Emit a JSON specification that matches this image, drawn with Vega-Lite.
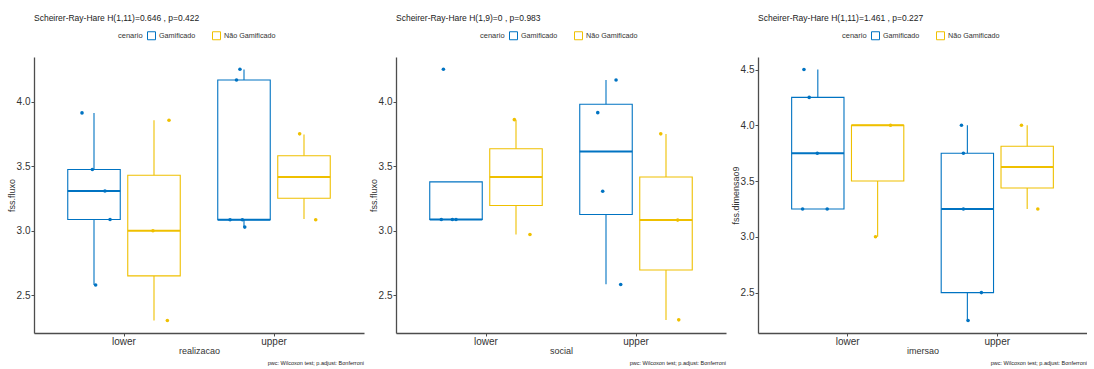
{
  "$schema": "https://vega.github.io/schema/vega-lite/v6.json",
  "padding": {"left": 7, "top": 13, "right": 0, "bottom": 0},
  "spacing": 5,
  "datasets": {
    "boxes": [
      {"panel": "realizacao", "cat": "lower", "cenario": "Gamificado", "lo": 2.58, "q1": 3.087, "med": 3.308, "q3": 3.474, "hi": 3.912},
      {"panel": "realizacao", "cat": "lower", "cenario": "Não Gamificado", "lo": 2.305, "q1": 2.65, "med": 3.0, "q3": 3.43, "hi": 3.855},
      {"panel": "realizacao", "cat": "upper", "cenario": "Gamificado", "lo": 3.028, "q1": 3.085, "med": 3.085, "q3": 4.167, "hi": 4.249},
      {"panel": "realizacao", "cat": "upper", "cenario": "Não Gamificado", "lo": 3.09, "q1": 3.251, "med": 3.416, "q3": 3.58, "hi": 3.745},
      {"panel": "social", "cat": "lower", "cenario": "Gamificado", "lo": 3.087, "q1": 3.087, "med": 3.087, "q3": 3.378, "hi": 3.378},
      {"panel": "social", "cat": "lower", "cenario": "Não Gamificado", "lo": 2.971, "q1": 3.195, "med": 3.416, "q3": 3.635, "hi": 3.86},
      {"panel": "social", "cat": "upper", "cenario": "Gamificado", "lo": 2.586, "q1": 3.126, "med": 3.614, "q3": 3.979, "hi": 4.167},
      {"panel": "social", "cat": "upper", "cenario": "Não Gamificado", "lo": 2.308, "q1": 2.696, "med": 3.082, "q3": 3.416, "hi": 3.748},
      {"panel": "imersao", "cat": "lower", "cenario": "Gamificado", "lo": 3.25, "q1": 3.25, "med": 3.75, "q3": 4.25, "hi": 4.5},
      {"panel": "imersao", "cat": "lower", "cenario": "Não Gamificado", "lo": 3.0, "q1": 3.5, "med": 4.0, "q3": 4.0, "hi": 4.0},
      {"panel": "imersao", "cat": "upper", "cenario": "Gamificado", "lo": 2.25, "q1": 2.5, "med": 3.25, "q3": 3.75, "hi": 4.0},
      {"panel": "imersao", "cat": "upper", "cenario": "Não Gamificado", "lo": 3.25, "q1": 3.4375, "med": 3.625, "q3": 3.8125, "hi": 4.0}
    ],
    "pts": [
      {"panel": "realizacao", "cat": "lower", "cenario": "Gamificado", "value": 3.912, "jitter": -0.08},
      {"panel": "realizacao", "cat": "lower", "cenario": "Gamificado", "value": 3.474, "jitter": -0.011},
      {"panel": "realizacao", "cat": "lower", "cenario": "Gamificado", "value": 3.308, "jitter": 0.073},
      {"panel": "realizacao", "cat": "lower", "cenario": "Gamificado", "value": 3.087, "jitter": 0.107},
      {"panel": "realizacao", "cat": "lower", "cenario": "Gamificado", "value": 2.58, "jitter": 0.011},
      {"panel": "realizacao", "cat": "lower", "cenario": "Não Gamificado", "value": 3.855, "jitter": 0.1},
      {"panel": "realizacao", "cat": "lower", "cenario": "Não Gamificado", "value": 3.0, "jitter": -0.007},
      {"panel": "realizacao", "cat": "lower", "cenario": "Não Gamificado", "value": 2.305, "jitter": 0.089},
      {"panel": "realizacao", "cat": "upper", "cenario": "Gamificado", "value": 4.25, "jitter": -0.027},
      {"panel": "realizacao", "cat": "upper", "cenario": "Gamificado", "value": 4.167, "jitter": -0.05},
      {"panel": "realizacao", "cat": "upper", "cenario": "Gamificado", "value": 3.085, "jitter": -0.093},
      {"panel": "realizacao", "cat": "upper", "cenario": "Gamificado", "value": 3.085, "jitter": -0.011},
      {"panel": "realizacao", "cat": "upper", "cenario": "Gamificado", "value": 3.028, "jitter": 0.005},
      {"panel": "realizacao", "cat": "upper", "cenario": "Não Gamificado", "value": 3.75, "jitter": -0.029},
      {"panel": "realizacao", "cat": "upper", "cenario": "Não Gamificado", "value": 3.085, "jitter": 0.078},
      {"panel": "social", "cat": "lower", "cenario": "Gamificado", "value": 4.25, "jitter": -0.084},
      {"panel": "social", "cat": "lower", "cenario": "Gamificado", "value": 3.087, "jitter": -0.098},
      {"panel": "social", "cat": "lower", "cenario": "Gamificado", "value": 3.087, "jitter": -0.024},
      {"panel": "social", "cat": "lower", "cenario": "Gamificado", "value": 3.087, "jitter": 0.0},
      {"panel": "social", "cat": "lower", "cenario": "Não Gamificado", "value": 3.86, "jitter": -0.011},
      {"panel": "social", "cat": "lower", "cenario": "Não Gamificado", "value": 2.971, "jitter": 0.093},
      {"panel": "social", "cat": "upper", "cenario": "Gamificado", "value": 4.167, "jitter": 0.067},
      {"panel": "social", "cat": "upper", "cenario": "Gamificado", "value": 3.914, "jitter": -0.055},
      {"panel": "social", "cat": "upper", "cenario": "Gamificado", "value": 3.305, "jitter": -0.022},
      {"panel": "social", "cat": "upper", "cenario": "Gamificado", "value": 2.584, "jitter": 0.098},
      {"panel": "social", "cat": "upper", "cenario": "Não Gamificado", "value": 3.75, "jitter": -0.035},
      {"panel": "social", "cat": "upper", "cenario": "Não Gamificado", "value": 3.082, "jitter": 0.078},
      {"panel": "social", "cat": "upper", "cenario": "Não Gamificado", "value": 2.31, "jitter": 0.085},
      {"panel": "imersao", "cat": "lower", "cenario": "Gamificado", "value": 4.5, "jitter": -0.093},
      {"panel": "imersao", "cat": "lower", "cenario": "Gamificado", "value": 4.25, "jitter": -0.058},
      {"panel": "imersao", "cat": "lower", "cenario": "Gamificado", "value": 3.75, "jitter": -0.004},
      {"panel": "imersao", "cat": "lower", "cenario": "Gamificado", "value": 3.25, "jitter": -0.102},
      {"panel": "imersao", "cat": "lower", "cenario": "Gamificado", "value": 3.25, "jitter": 0.062},
      {"panel": "imersao", "cat": "lower", "cenario": "Não Gamificado", "value": 4.0, "jitter": 0.084},
      {"panel": "imersao", "cat": "lower", "cenario": "Não Gamificado", "value": 3.0, "jitter": -0.016},
      {"panel": "imersao", "cat": "upper", "cenario": "Gamificado", "value": 4.0, "jitter": -0.04},
      {"panel": "imersao", "cat": "upper", "cenario": "Gamificado", "value": 3.75, "jitter": -0.027},
      {"panel": "imersao", "cat": "upper", "cenario": "Gamificado", "value": 3.25, "jitter": -0.027},
      {"panel": "imersao", "cat": "upper", "cenario": "Gamificado", "value": 2.5, "jitter": 0.093},
      {"panel": "imersao", "cat": "upper", "cenario": "Gamificado", "value": 2.25, "jitter": 0.004},
      {"panel": "imersao", "cat": "upper", "cenario": "Não Gamificado", "value": 4.0, "jitter": -0.04},
      {"panel": "imersao", "cat": "upper", "cenario": "Não Gamificado", "value": 3.25, "jitter": 0.069}
    ]
  },
  "hconcat": [
    {
      "title": {"text": "pwc: Wilcoxon test; p.adjust: Bonferroni", "orient": "bottom", "anchor": "end", "fontSize": 5.5, "fontWeight": "normal", "color": "#222", "offset": 6},
      "vconcat": [
        {
          "title": {"text": "Scheirer-Ray-Hare H(1,11)=0.646 , p=0.422", "anchor": "start", "frame": "group", "fontSize": 8.5, "fontWeight": "normal", "color": "#222", "offset": 35},
          "width": 330, "height": 276,
          "resolve": {"scale": {"xOffset": "independent"}},
          "encoding": {
            "x": {"field": "cat", "type": "nominal", "title": "realizacao", "scale": {"domain": ["lower", "upper"], "paddingInner": 0.2, "paddingOuter": 0.2}},
            "stroke": {"field": "cenario", "type": "nominal", "scale": {"domain": ["Gamificado", "Não Gamificado"], "range": ["#0073C2", "#EFC000"]},
              "legend": {"orient": "none", "legendX": 84, "legendY": -26, "direction": "horizontal", "title": "cenario", "titleOrient": "left"}}
          },
          "layer": [
            {"data": {"name": "boxes"}, "transform": [{"filter": "datum.panel == 'realizacao'"}],
             "mark": {"type": "rule", "strokeWidth": 1.1},
             "encoding": {"xOffset": {"field": "cenario", "scale": {"domain": ["Gamificado", "Não Gamificado"], "paddingInner": 0.125, "paddingOuter": 0.0625}},
               "y": {"field": "lo", "type": "quantitative", "title": "fss.fluxo", "scale": {"domain": [2.208, 4.345], "nice": false, "zero": false}, "axis": {"values": [2.5, 3.0, 3.5, 4.0], "format": ".1f"}}, "y2": {"field": "q1"}}},
            {"data": {"name": "boxes"}, "transform": [{"filter": "datum.panel == 'realizacao'"}],
             "mark": {"type": "rule", "strokeWidth": 1.1},
             "encoding": {"xOffset": {"field": "cenario", "scale": {"domain": ["Gamificado", "Não Gamificado"], "paddingInner": 0.125, "paddingOuter": 0.0625}},
               "y": {"field": "q3", "type": "quantitative", "title": "fss.fluxo"}, "y2": {"field": "hi"}}},
            {"data": {"name": "boxes"}, "transform": [{"filter": "datum.panel == 'realizacao'"}],
             "mark": {"type": "bar", "filled": false, "strokeWidth": 1.1},
             "encoding": {"xOffset": {"field": "cenario", "scale": {"domain": ["Gamificado", "Não Gamificado"], "paddingInner": 0.125, "paddingOuter": 0.0625}},
               "y": {"field": "q1", "type": "quantitative", "title": "fss.fluxo"}, "y2": {"field": "q3"}}},
            {"data": {"name": "boxes"}, "transform": [{"filter": "datum.panel == 'realizacao'"}],
             "mark": {"type": "bar", "filled": false, "strokeWidth": 2},
             "encoding": {"xOffset": {"field": "cenario", "scale": {"domain": ["Gamificado", "Não Gamificado"], "paddingInner": 0.125, "paddingOuter": 0.0625}},
               "y": {"field": "med", "type": "quantitative", "title": "fss.fluxo"}, "y2": {"field": "med"}}},
            {"data": {"name": "pts"}, "transform": [{"filter": "datum.panel == 'realizacao' && datum.cenario == 'Gamificado'"}],
             "mark": {"type": "circle", "size": 13, "opacity": 1, "strokeWidth": 0},
             "encoding": {"xOffset": {"field": "jitter", "type": "quantitative", "scale": {"domain": [-1, 1], "range": [-120, 180]}},
               "fill": {"field": "cenario", "type": "nominal", "scale": {"domain": ["Gamificado", "Não Gamificado"], "range": ["#0073C2", "#EFC000"]}, "legend": null},
               "y": {"field": "value", "type": "quantitative", "title": "fss.fluxo"}}},
            {"data": {"name": "pts"}, "transform": [{"filter": "datum.panel == 'realizacao' && datum.cenario == 'Não Gamificado'"}],
             "mark": {"type": "circle", "size": 13, "opacity": 1, "strokeWidth": 0},
             "encoding": {"xOffset": {"field": "jitter", "type": "quantitative", "scale": {"domain": [-1, 1], "range": [-60, 240]}},
               "fill": {"field": "cenario", "type": "nominal", "scale": {"domain": ["Gamificado", "Não Gamificado"], "range": ["#0073C2", "#EFC000"]}, "legend": null},
               "y": {"field": "value", "type": "quantitative", "title": "fss.fluxo"}}}
          ]
        }
      ]
    },
    {
      "title": {"text": "pwc: Wilcoxon test; p.adjust: Bonferroni", "orient": "bottom", "anchor": "end", "fontSize": 5.5, "fontWeight": "normal", "color": "#222", "offset": 6},
      "vconcat": [
        {
          "title": {"text": "Scheirer-Ray-Hare H(1,9)=0 , p=0.983", "anchor": "start", "frame": "group", "fontSize": 8.5, "fontWeight": "normal", "color": "#222", "offset": 35},
          "width": 330, "height": 276,
          "resolve": {"scale": {"xOffset": "independent"}},
          "encoding": {
            "x": {"field": "cat", "type": "nominal", "title": "social", "scale": {"domain": ["lower", "upper"], "paddingInner": 0.2, "paddingOuter": 0.2}},
            "stroke": {"field": "cenario", "type": "nominal", "scale": {"domain": ["Gamificado", "Não Gamificado"], "range": ["#0073C2", "#EFC000"]},
              "legend": {"orient": "none", "legendX": 84, "legendY": -26, "direction": "horizontal", "title": "cenario", "titleOrient": "left"}}
          },
          "layer": [
            {"data": {"name": "boxes"}, "transform": [{"filter": "datum.panel == 'social'"}],
             "mark": {"type": "rule", "strokeWidth": 1.1},
             "encoding": {"xOffset": {"field": "cenario", "scale": {"domain": ["Gamificado", "Não Gamificado"], "paddingInner": 0.125, "paddingOuter": 0.0625}},
               "y": {"field": "lo", "type": "quantitative", "title": "fss.fluxo", "scale": {"domain": [2.208, 4.345], "nice": false, "zero": false}, "axis": {"values": [2.5, 3.0, 3.5, 4.0], "format": ".1f"}}, "y2": {"field": "q1"}}},
            {"data": {"name": "boxes"}, "transform": [{"filter": "datum.panel == 'social'"}],
             "mark": {"type": "rule", "strokeWidth": 1.1},
             "encoding": {"xOffset": {"field": "cenario", "scale": {"domain": ["Gamificado", "Não Gamificado"], "paddingInner": 0.125, "paddingOuter": 0.0625}},
               "y": {"field": "q3", "type": "quantitative", "title": "fss.fluxo"}, "y2": {"field": "hi"}}},
            {"data": {"name": "boxes"}, "transform": [{"filter": "datum.panel == 'social'"}],
             "mark": {"type": "bar", "filled": false, "strokeWidth": 1.1},
             "encoding": {"xOffset": {"field": "cenario", "scale": {"domain": ["Gamificado", "Não Gamificado"], "paddingInner": 0.125, "paddingOuter": 0.0625}},
               "y": {"field": "q1", "type": "quantitative", "title": "fss.fluxo"}, "y2": {"field": "q3"}}},
            {"data": {"name": "boxes"}, "transform": [{"filter": "datum.panel == 'social'"}],
             "mark": {"type": "bar", "filled": false, "strokeWidth": 2},
             "encoding": {"xOffset": {"field": "cenario", "scale": {"domain": ["Gamificado", "Não Gamificado"], "paddingInner": 0.125, "paddingOuter": 0.0625}},
               "y": {"field": "med", "type": "quantitative", "title": "fss.fluxo"}, "y2": {"field": "med"}}},
            {"data": {"name": "pts"}, "transform": [{"filter": "datum.panel == 'social' && datum.cenario == 'Gamificado'"}],
             "mark": {"type": "circle", "size": 13, "opacity": 1, "strokeWidth": 0},
             "encoding": {"xOffset": {"field": "jitter", "type": "quantitative", "scale": {"domain": [-1, 1], "range": [-120, 180]}},
               "fill": {"field": "cenario", "type": "nominal", "scale": {"domain": ["Gamificado", "Não Gamificado"], "range": ["#0073C2", "#EFC000"]}, "legend": null},
               "y": {"field": "value", "type": "quantitative", "title": "fss.fluxo"}}},
            {"data": {"name": "pts"}, "transform": [{"filter": "datum.panel == 'social' && datum.cenario == 'Não Gamificado'"}],
             "mark": {"type": "circle", "size": 13, "opacity": 1, "strokeWidth": 0},
             "encoding": {"xOffset": {"field": "jitter", "type": "quantitative", "scale": {"domain": [-1, 1], "range": [-60, 240]}},
               "fill": {"field": "cenario", "type": "nominal", "scale": {"domain": ["Gamificado", "Não Gamificado"], "range": ["#0073C2", "#EFC000"]}, "legend": null},
               "y": {"field": "value", "type": "quantitative", "title": "fss.fluxo"}}}
          ]
        }
      ]
    },
    {
      "title": {"text": "pwc: Wilcoxon test; p.adjust: Bonferroni", "orient": "bottom", "anchor": "end", "fontSize": 5.5, "fontWeight": "normal", "color": "#222", "offset": 6},
      "vconcat": [
        {
          "title": {"text": "Scheirer-Ray-Hare H(1,11)=1.461 , p=0.227", "anchor": "start", "frame": "group", "fontSize": 8.5, "fontWeight": "normal", "color": "#222", "offset": 35},
          "width": 329, "height": 276,
          "resolve": {"scale": {"xOffset": "independent"}},
          "encoding": {
            "x": {"field": "cat", "type": "nominal", "title": "imersao", "scale": {"domain": ["lower", "upper"], "paddingInner": 0.2, "paddingOuter": 0.2}},
            "stroke": {"field": "cenario", "type": "nominal", "scale": {"domain": ["Gamificado", "Não Gamificado"], "range": ["#0073C2", "#EFC000"]},
              "legend": {"orient": "none", "legendX": 84, "legendY": -26, "direction": "horizontal", "title": "cenario", "titleOrient": "left"}}
          },
          "layer": [
            {"data": {"name": "boxes"}, "transform": [{"filter": "datum.panel == 'imersao'"}],
             "mark": {"type": "rule", "strokeWidth": 1.1},
             "encoding": {"xOffset": {"field": "cenario", "scale": {"domain": ["Gamificado", "Não Gamificado"], "paddingInner": 0.125, "paddingOuter": 0.0625}},
               "y": {"field": "lo", "type": "quantitative", "title": "fss.dimensao9", "scale": {"domain": [2.1375, 4.6125], "nice": false, "zero": false}, "axis": {"values": [2.5, 3.0, 3.5, 4.0, 4.5], "format": ".1f"}}, "y2": {"field": "q1"}}},
            {"data": {"name": "boxes"}, "transform": [{"filter": "datum.panel == 'imersao'"}],
             "mark": {"type": "rule", "strokeWidth": 1.1},
             "encoding": {"xOffset": {"field": "cenario", "scale": {"domain": ["Gamificado", "Não Gamificado"], "paddingInner": 0.125, "paddingOuter": 0.0625}},
               "y": {"field": "q3", "type": "quantitative", "title": "fss.dimensao9"}, "y2": {"field": "hi"}}},
            {"data": {"name": "boxes"}, "transform": [{"filter": "datum.panel == 'imersao'"}],
             "mark": {"type": "bar", "filled": false, "strokeWidth": 1.1},
             "encoding": {"xOffset": {"field": "cenario", "scale": {"domain": ["Gamificado", "Não Gamificado"], "paddingInner": 0.125, "paddingOuter": 0.0625}},
               "y": {"field": "q1", "type": "quantitative", "title": "fss.dimensao9"}, "y2": {"field": "q3"}}},
            {"data": {"name": "boxes"}, "transform": [{"filter": "datum.panel == 'imersao'"}],
             "mark": {"type": "bar", "filled": false, "strokeWidth": 2},
             "encoding": {"xOffset": {"field": "cenario", "scale": {"domain": ["Gamificado", "Não Gamificado"], "paddingInner": 0.125, "paddingOuter": 0.0625}},
               "y": {"field": "med", "type": "quantitative", "title": "fss.dimensao9"}, "y2": {"field": "med"}}},
            {"data": {"name": "pts"}, "transform": [{"filter": "datum.panel == 'imersao' && datum.cenario == 'Gamificado'"}],
             "mark": {"type": "circle", "size": 13, "opacity": 1, "strokeWidth": 0},
             "encoding": {"xOffset": {"field": "jitter", "type": "quantitative", "scale": {"domain": [-1, 1], "range": [-120, 180]}},
               "fill": {"field": "cenario", "type": "nominal", "scale": {"domain": ["Gamificado", "Não Gamificado"], "range": ["#0073C2", "#EFC000"]}, "legend": null},
               "y": {"field": "value", "type": "quantitative", "title": "fss.dimensao9"}}},
            {"data": {"name": "pts"}, "transform": [{"filter": "datum.panel == 'imersao' && datum.cenario == 'Não Gamificado'"}],
             "mark": {"type": "circle", "size": 13, "opacity": 1, "strokeWidth": 0},
             "encoding": {"xOffset": {"field": "jitter", "type": "quantitative", "scale": {"domain": [-1, 1], "range": [-60, 240]}},
               "fill": {"field": "cenario", "type": "nominal", "scale": {"domain": ["Gamificado", "Não Gamificado"], "range": ["#0073C2", "#EFC000"]}, "legend": null},
               "y": {"field": "value", "type": "quantitative", "title": "fss.dimensao9"}}}
          ]
        }
      ]
    }
  ],
  "resolve": {"legend": {"stroke": "independent"}},
  "config": {
    "font": "Liberation Sans",
    "view": {"stroke": null},
    "axis": {"grid": false, "domainColor": "#4d4d4d", "domainWidth": 1.3, "tickColor": "#4d4d4d", "tickSize": 3, "labelColor": "#333", "labelFontSize": 10, "labelPadding": 0, "titleColor": "#333", "titleFontSize": 9, "titleFontWeight": "normal"},
    "axisX": {"labelAngle": 0, "titlePadding": 0},
    "axisY": {"titlePadding": 0, "minExtent": 18, "maxExtent": 18, "labelPadding": 1},
    "legend": {"titleFontSize": 7.5, "titleFontWeight": "normal", "titleColor": "#333", "labelFontSize": 7.2, "labelColor": "#333", "symbolType": "square", "symbolSize": 64, "symbolStrokeWidth": 1, "symbolFillColor": "white", "columnPadding": 14, "titlePadding": 4, "labelOffset": 3}
  }
}
